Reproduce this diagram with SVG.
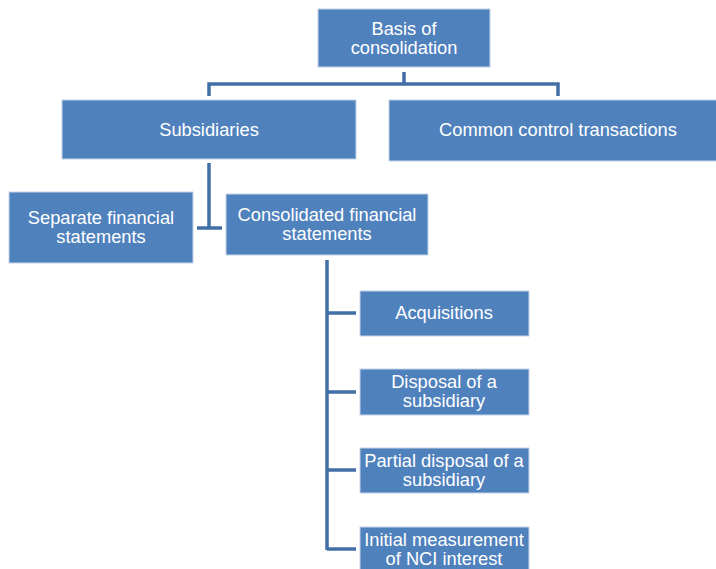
<svg xmlns="http://www.w3.org/2000/svg" width="716" height="569" viewBox="0 0 716 569">
<style>
.box{fill:#4F81BD;stroke:#C5D3E6;stroke-width:1}
.t{font-family:"Liberation Sans",Arial,sans-serif;font-size:18.3px;fill:#FFFFFF;text-anchor:middle}
.c{fill:none;stroke:#416FA6;stroke-width:3.5}
</style>
<rect width="716" height="569" fill="#FFFFFF"/>
<g id="connectors">
<path class="c" d="M404,72 V84 M209,96 V84 H558 V96"/>
<path class="c" d="M209,163 V228 M197,228 H222"/>
<path class="c" d="M327,260 V550 M327,313 H356 M327,392 H356 M327,470 H356 M327,549 H356"/>
</g>
<g id="basis"><rect class="box" x="318" y="9" width="172" height="58"/><text class="t" x="404" y="35">Basis of</text><text class="t" x="404" y="54">consolidation</text></g>
<g id="subsidiaries"><rect class="box" x="62" y="100" width="294" height="59"/><text class="t" x="209" y="136">Subsidiaries</text></g>
<g id="common"><rect class="box" x="389" y="100" width="330" height="61"/><text class="t" x="558" y="136">Common control transactions</text></g>
<g id="separate"><rect class="box" x="9" y="192" width="184" height="71"/><text class="t" x="101" y="224">Separate financial</text><text class="t" x="101" y="243">statements</text></g>
<g id="consolidated"><rect class="box" x="226" y="194" width="202" height="61"/><text class="t" x="327" y="221">Consolidated financial</text><text class="t" x="327" y="240">statements</text></g>
<g id="acquisitions"><rect class="box" x="360" y="291" width="169" height="45"/><text class="t" x="444" y="319">Acquisitions</text></g>
<g id="disposal"><rect class="box" x="360" y="369" width="169" height="46"/><text class="t" x="444" y="388">Disposal of a</text><text class="t" x="444" y="407">subsidiary</text></g>
<g id="partial"><rect class="box" x="360" y="448" width="169" height="45"/><text class="t" x="444" y="467">Partial disposal of a</text><text class="t" x="444" y="486">subsidiary</text></g>
<g id="initial"><rect class="box" x="360" y="527" width="169" height="50"/><text class="t" x="444" y="546">Initial measurement</text><text class="t" x="444" y="565">of NCI interest</text></g>
</svg>
